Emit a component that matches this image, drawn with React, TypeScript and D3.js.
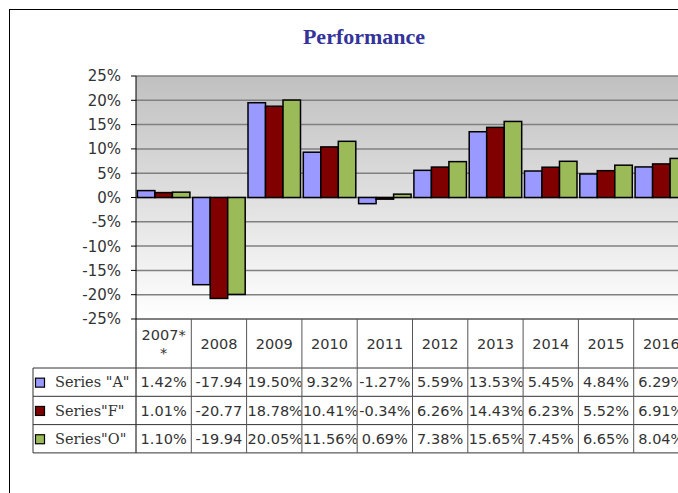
import { useEffect, useRef } from 'react'
import * as d3 from 'd3'

const categories = ['2007**', '2008', '2009', '2010', '2011', '2012', '2013', '2014', '2015', '2016']
const seriesNames = ['Series "A"', 'Series"F"', 'Series"O"']
const seriesA = [1.42, -17.94, 19.5, 9.32, -1.27, 5.59, 13.53, 5.45, 4.84, 6.29]
const seriesF = [1.01, -20.77, 18.78, 10.41, -0.34, 6.26, 14.43, 6.23, 5.52, 6.91]
const seriesO = [1.1, -19.94, 20.05, 11.56, 0.69, 7.38, 15.65, 7.45, 6.65, 8.04]
const seriesColors = ['#9999ff', '#800000', '#9bbb59']
const yTicks = [-25, -20, -15, -10, -5, 0, 5, 10, 15, 20, 25]

export default function App() {
  const svgRef = useRef<SVGSVGElement>(null)

  useEffect(() => {
    if (!svgRef.current) return
    const svg = d3.select(svgRef.current)
    svg.selectAll('*').remove()

    const values = [seriesA, seriesF, seriesO]
    const plotLeft = 136
    const plotTop = 76
    const plotBottom = 319
    const catWidth = 55.3
    const tableLeft = 33
    const headerBottom = 368
    const rowH = 28.3
    const sans = 'DejaVu Sans, Verdana, sans-serif'
    const serif = 'DejaVu Serif, serif'
    const textColor = '#333'

    const x = d3.scaleBand()
      .domain(categories)
      .range([plotLeft, plotLeft + catWidth * categories.length])
      .padding(0)

    const x1 = d3.scaleBand()
      .domain(seriesNames)
      .range([0, x.bandwidth()])
      .paddingInner(0)
      .paddingOuter(0.08)

    const y = d3.scaleLinear().domain([-25, 25]).range([plotBottom, plotTop])

    const defs = svg.append('defs')
    const grad = defs.append('linearGradient')
      .attr('id', 'bg')
      .attr('x1', 0).attr('y1', 0).attr('x2', 0).attr('y2', 1)
    grad.append('stop').attr('offset', '0%').attr('stop-color', '#c0c0c0')
    grad.append('stop').attr('offset', '100%').attr('stop-color', '#ffffff')

    // outer frame
    svg.append('rect')
      .attr('x', 9.5).attr('y', 9.5)
      .attr('width', 740).attr('height', 520)
      .attr('fill', '#fff')
      .attr('stroke', '#000')

    // title
    svg.append('text')
      .attr('x', 364).attr('y', 44)
      .attr('text-anchor', 'middle')
      .attr('font-family', 'Liberation Serif, serif')
      .attr('font-weight', 'bold')
      .attr('font-size', '22px')
      .attr('fill', '#333399')
      .text('Performance')

    // plot background
    svg.append('rect')
      .attr('x', plotLeft).attr('y', plotTop)
      .attr('width', 700).attr('height', plotBottom - plotTop)
      .attr('fill', 'url(#bg)')

    // gridlines
    svg.selectAll('.grid')
      .data(yTicks.filter(t => t > -25))
      .join('line')
      .attr('class', 'grid')
      .attr('x1', plotLeft).attr('x2', 800)
      .attr('y1', d => y(d)).attr('y2', d => y(d))
      .attr('stroke', '#808080')
      .attr('stroke-width', 1.5)

    // y ticks and labels
    svg.selectAll('.ytick')
      .data(yTicks)
      .join('line')
      .attr('class', 'ytick')
      .attr('x1', plotLeft - 5).attr('x2', plotLeft)
      .attr('y1', d => y(d)).attr('y2', d => y(d))
      .attr('stroke', '#000')

    svg.selectAll('.ylabel')
      .data(yTicks)
      .join('text')
      .attr('class', 'ylabel')
      .attr('x', 121)
      .attr('y', d => y(d))
      .attr('dy', '0.36em')
      .attr('text-anchor', 'end')
      .attr('font-family', sans)
      .attr('font-size', '15px')
      .attr('fill', textColor)
      .text(d => `${d}%`)

    // bars
    values.forEach((vals, si) => {
      svg.selectAll(`.bar-${si}`)
        .data(vals)
        .join('rect')
        .attr('class', `bar-${si}`)
        .attr('x', (d, i) => (x(categories[i]) || 0) + (x1(seriesNames[si]) || 0))
        .attr('y', d => y(Math.max(0, d)))
        .attr('width', x1.bandwidth())
        .attr('height', d => Math.abs(y(d) - y(0)))
        .attr('fill', seriesColors[si])
        .attr('stroke', '#000')
        .attr('stroke-width', 1.5)
    })

    // axis line
    svg.append('line')
      .attr('x1', plotLeft).attr('x2', plotLeft)
      .attr('y1', plotTop).attr('y2', headerBottom + rowH * 3)
      .attr('stroke', '#000')

    // table lines
    const tableBottom = headerBottom + rowH * 3
    const tableRight = 800
    svg.append('line')
      .attr('x1', plotLeft).attr('x2', tableRight)
      .attr('y1', plotBottom).attr('y2', plotBottom)
      .attr('stroke', '#000')
    d3.range(4).forEach(r => {
      svg.append('line')
        .attr('x1', tableLeft).attr('x2', tableRight)
        .attr('y1', headerBottom + r * rowH).attr('y2', headerBottom + r * rowH)
        .attr('stroke', '#333')
    })
    svg.append('line')
      .attr('x1', tableLeft).attr('x2', tableLeft)
      .attr('y1', headerBottom).attr('y2', tableBottom)
      .attr('stroke', '#333')
    svg.selectAll('.vline')
      .data(categories.slice(1))
      .join('line')
      .attr('class', 'vline')
      .attr('x1', d => x(d) || 0).attr('x2', d => x(d) || 0)
      .attr('y1', plotBottom).attr('y2', tableBottom)
      .attr('stroke', '#555')

    // header labels, wrapped by character if needed
    categories.forEach(cat => {
      const cx = (x(cat) || 0) + x.bandwidth() / 2
      const t = svg.append('text')
        .attr('text-anchor', 'middle')
        .attr('font-family', sans)
        .attr('font-size', '14.5px')
        .attr('fill', textColor)
      const lines: string[] = []
      let cur = ''
      for (const ch of cat) {
        t.text(cur + ch)
        if (cur && (t.node() as SVGTextElement).getComputedTextLength() > x.bandwidth() - 8) {
          lines.push(cur)
          cur = ch
        } else {
          cur += ch
        }
      }
      lines.push(cur)
      t.text(null)
      const midY = (plotBottom + headerBottom) / 2
      lines.forEach((ln, li) => {
        t.append('tspan')
          .attr('x', cx)
          .attr('y', midY + (li - (lines.length - 1) / 2) * 18)
          .attr('dy', '0.36em')
          .text(ln)
      })
    })

    // legend column
    seriesNames.forEach((name, si) => {
      const rowMid = headerBottom + rowH * si + rowH / 2
      svg.append('rect')
        .attr('x', 35.5).attr('y', rowMid - 4)
        .attr('width', 9).attr('height', 9)
        .attr('fill', seriesColors[si])
        .attr('stroke', '#000')
        .attr('stroke-width', 1.2)
      svg.append('text')
        .attr('x', 55)
        .attr('y', rowMid)
        .attr('dy', '0.36em')
        .attr('font-family', serif)
        .attr('font-size', '14.5px')
        .attr('fill', textColor)
        .text(name)
    })

    // value cells
    values.forEach((vals, si) => {
      const rowTop = headerBottom + rowH * si
      vals.forEach((v, i) => {
        const cx0 = x(categories[i]) || 0
        const w = x.bandwidth()
        const clipId = `c-${si}-${i}`
        defs.append('clipPath').attr('id', clipId)
          .append('rect')
          .attr('x', cx0 + 1).attr('y', rowTop)
          .attr('width', w - 1.5).attr('height', rowH)
        const t = svg.append('text')
          .attr('clip-path', `url(#${clipId})`)
          .attr('y', rowTop + rowH / 2)
          .attr('dy', '0.36em')
          .attr('font-family', sans)
          .attr('font-size', '14.5px')
          .attr('fill', textColor)
          .text(`${v.toFixed(2)}%`)
        const len = (t.node() as SVGTextElement).getComputedTextLength()
        if (len > w + 3) {
          t.text(v.toFixed(2)).attr('x', cx0 + w / 2).attr('text-anchor', 'middle')
        } else if (len > w - 2) {
          t.attr('x', cx0 + 1).attr('text-anchor', 'start')
        } else {
          t.attr('x', cx0 + w / 2).attr('text-anchor', 'middle')
        }
      })
    })
  }, [])

  return (
    <svg
      ref={svgRef}
      width={678}
      height={493}
      style={{ position: 'absolute', left: 0, top: 0, display: 'block' }}
    />
  )
}
